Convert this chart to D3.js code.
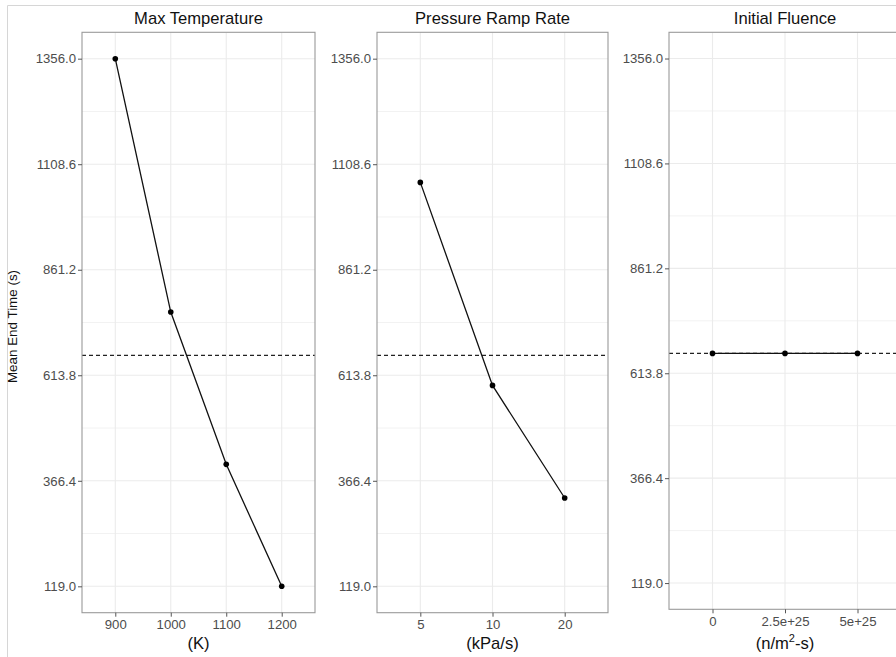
<!DOCTYPE html>
<html>
<head>
<meta charset="utf-8">
<script src="https://cdn.jsdelivr.net/npm/d3@7"></script>
<style>
  html, body { margin: 0; padding: 0; background: #fff; }
  svg { display: block; font-family: "Liberation Sans", Arial, Helvetica, sans-serif; }
</style>
</head>
<body>
<svg id="chart" width="896" height="657"></svg>
<script>
// Mean end time for each factor level (seconds)
const panelTitles = ["Max Temperature", "Pressure Ramp Rate", "Initial Fluence"];
const tempLevels = ["900", "1000", "1100", "1200"];
const tempMeans = [1356.0, 762, 405, 119.0];
const rampLevels = ["5", "10", "20"];
const rampMeans = [1066, 590, 326];
const fluenceLevels = ["0", "2.5e+25", "5e+25"];
const fluenceMeans = [660.6, 660.6, 660.6];
const overallMean = 660.6;
const yTickValues = [119.0, 366.4, 613.8, 861.2, 1108.6, 1356.0];
const yTitle = "Mean End Time (s)";

const panels = [
  { title: panelTitles[0], levels: tempLevels, values: tempMeans, xTitle: ["(K)"] },
  { title: panelTitles[1], levels: rampLevels, values: rampMeans, xTitle: ["(kPa/s)"] },
  { title: panelTitles[2], levels: fluenceLevels, values: fluenceMeans, xTitle: ["(n/m", "2", "-s)"] }
];

// Frame geometry of each sub-plot
const frames = [
  { left: 82, right: 315, top: 32.3, bottom: 612.7 },
  { left: 377, right: 608, top: 32.3, bottom: 612.7 },
  { left: 669, right: 901, top: 32.3, bottom: 609.3 }
];

const svg = d3.select("#chart");

// thin outer frame around the composed figure
svg.append("path")
  .attr("d", "M7.5,657 L7.5,5.5 L896,5.5")
  .attr("fill", "none")
  .attr("stroke", "#d6d6d6")
  .attr("stroke-width", 1);

const yMin = d3.min(yTickValues), yMax = d3.max(yTickValues);
const yPad = (yMax - yMin) * 0.05;
const minorTicks = d3.pairs(yTickValues).map(([a, b]) => (a + b) / 2);

panels.forEach((p, i) => {
  const f = frames[i];
  const g = svg.append("g");

  const x = d3.scalePoint().domain(p.levels).range([f.left, f.right]).padding(0.6);
  const y = d3.scaleLinear().domain([yMin - yPad, yMax + yPad]).range([f.bottom, f.top]);

  // grid
  const grid = g.append("g");
  grid.selectAll(".minor").data(minorTicks).join("line")
    .attr("x1", f.left).attr("x2", f.right)
    .attr("y1", d => y(d)).attr("y2", d => y(d))
    .attr("stroke", "#f2f2f2").attr("stroke-width", 1);
  grid.selectAll(".majorY").data(yTickValues).join("line")
    .attr("x1", f.left).attr("x2", f.right)
    .attr("y1", d => y(d)).attr("y2", d => y(d))
    .attr("stroke", "#ebebeb").attr("stroke-width", 1.1);
  grid.selectAll(".majorX").data(p.levels).join("line")
    .attr("x1", d => x(d)).attr("x2", d => x(d))
    .attr("y1", f.top).attr("y2", f.bottom)
    .attr("stroke", "#ebebeb").attr("stroke-width", 1.1);

  // overall mean reference
  g.append("line")
    .attr("x1", f.left).attr("x2", f.right)
    .attr("y1", y(overallMean)).attr("y2", y(overallMean))
    .attr("stroke", "#222").attr("stroke-width", 1.2)
    .attr("stroke-dasharray", "4,3");

  // series line and points
  const pts = p.levels.map((l, k) => [x(l), y(p.values[k])]);
  g.append("path")
    .attr("d", d3.line()(pts))
    .attr("fill", "none").attr("stroke", "#111").attr("stroke-width", 1.3);
  g.selectAll("circle").data(pts).join("circle")
    .attr("cx", d => d[0]).attr("cy", d => d[1]).attr("r", 2.8)
    .attr("fill", "#000");

  // panel border
  g.append("rect")
    .attr("x", f.left).attr("y", f.top)
    .attr("width", f.right - f.left).attr("height", f.bottom - f.top)
    .attr("fill", "none").attr("stroke", "#9a9a9a").attr("stroke-width", 1.1);

  // y axis
  const yAxis = g.append("g").attr("transform", `translate(${f.left},0)`)
    .call(d3.axisLeft(y).tickValues(yTickValues).tickFormat(d3.format(".1f")).tickSize(4).tickPadding(2));
  yAxis.select(".domain").remove();
  yAxis.selectAll(".tick line").attr("stroke", "#555");
  yAxis.selectAll(".tick text").attr("fill", "#4d4d4d").attr("font-size", 13.2);

  // x axis
  const xAxis = g.append("g").attr("transform", `translate(0,${f.bottom})`)
    .call(d3.axisBottom(x).tickSize(4).tickPadding(3));
  xAxis.select(".domain").remove();
  xAxis.selectAll(".tick line").attr("stroke", "#555");
  xAxis.selectAll(".tick text").attr("fill", "#4d4d4d").attr("font-size", 13.2);

  // panel title
  g.append("text")
    .attr("x", (f.left + f.right) / 2).attr("y", 24.3)
    .attr("text-anchor", "middle").attr("font-size", 16.6).attr("fill", "#111")
    .text(p.title);

  // x axis title
  const xt = g.append("text")
    .attr("x", (f.left + f.right) / 2).attr("y", 648.5)
    .attr("text-anchor", "middle").attr("font-size", 16.6).attr("fill", "#111");
  if (p.xTitle.length === 1) {
    xt.text(p.xTitle[0]);
  } else {
    xt.append("tspan").text(p.xTitle[0]);
    xt.append("tspan").attr("font-size", 11).attr("dy", -7).text(p.xTitle[1]);
    xt.append("tspan").attr("dy", 7).text(p.xTitle[2]);
  }

  if (i === 0) {
    g.append("text")
      .attr("transform", `translate(17,${(f.top + f.bottom) / 2 + 4}) rotate(-90)`)
      .attr("text-anchor", "middle").attr("font-size", 13.4).attr("fill", "#111")
      .text(yTitle);
  }
});
</script>
</body>
</html>
